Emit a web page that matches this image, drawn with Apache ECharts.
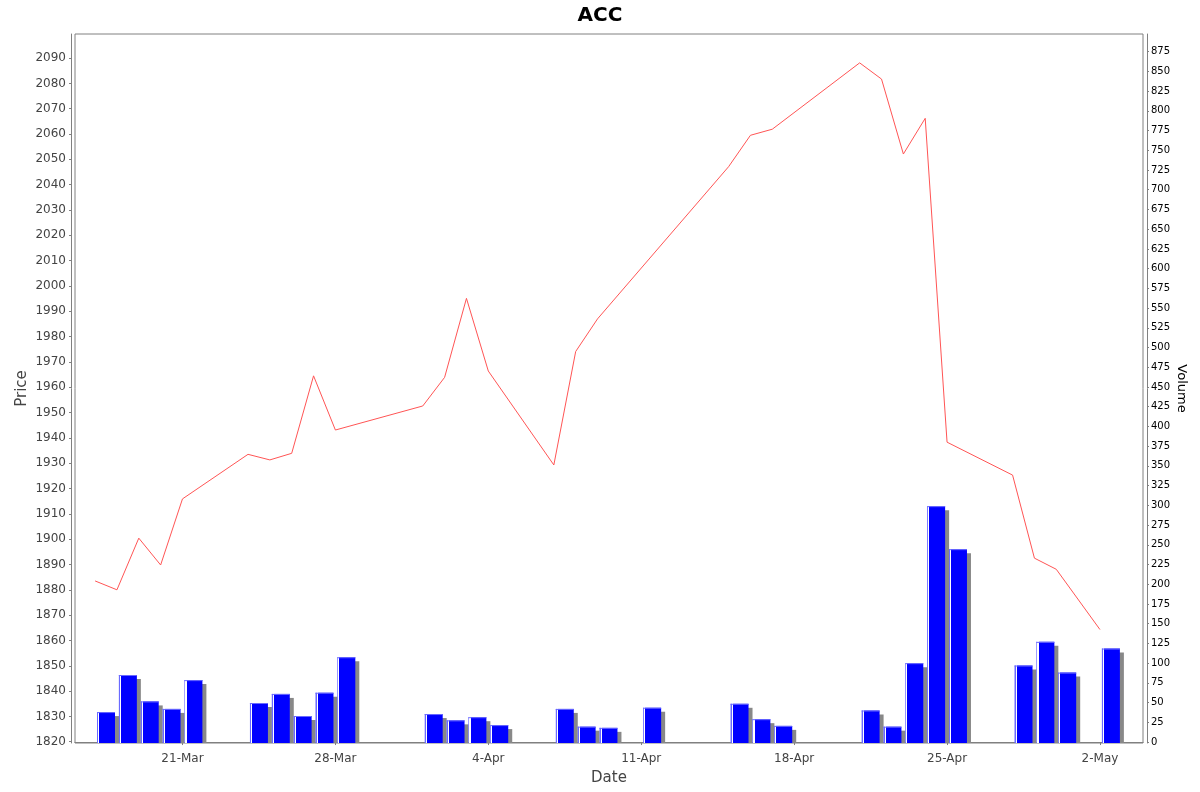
<!DOCTYPE html>
<html>
<head>
<meta charset="utf-8">
<script src="https://cdn.jsdelivr.net/npm/echarts@6/dist/echarts.min.js"></script>
<style>
  html, body { margin: 0; padding: 0; background: #fff; }
  #chart { width: 1200px; height: 792px; }
</style>
</head>
<body>
<div id="chart"></div>
<script>
// price closes (line, left axis)
const priceDates = ['2014-03-17', '2014-03-18', '2014-03-19', '2014-03-20', '2014-03-21',
    '2014-03-24', '2014-03-25', '2014-03-26', '2014-03-27', '2014-03-28',
    '2014-04-01', '2014-04-02', '2014-04-03', '2014-04-04',
    '2014-04-07', '2014-04-08', '2014-04-09',
    '2014-04-15', '2014-04-16', '2014-04-17',
    '2014-04-21', '2014-04-22', '2014-04-23', '2014-04-24', '2014-04-25',
    '2014-04-28', '2014-04-29', '2014-04-30', '2014-05-02'];
const priceValues = [1883.5, 1880, 1900.4, 1889.8, 1915.9,
    1933.5, 1931.3, 1933.9, 1964.5, 1943.1,
    1952.6, 1963.9, 1995.1, 1966.4,
    1929.3, 1974.1, 1987.0,
    2047.1, 2059.5, 2061.9,
    2088.1, 2081.7, 2052.1, 2066.2, 1938.3,
    1925.3, 1892.5, 1888.1, 1864.3];

// traded volume (bars, right axis)
const volumeDates = ['2014-03-17', '2014-03-18', '2014-03-19', '2014-03-20', '2014-03-21',
    '2014-03-24', '2014-03-25', '2014-03-26', '2014-03-27', '2014-03-28',
    '2014-04-01', '2014-04-02', '2014-04-03', '2014-04-04',
    '2014-04-07', '2014-04-08', '2014-04-09', '2014-04-11',
    '2014-04-15', '2014-04-16', '2014-04-17',
    '2014-04-21', '2014-04-22', '2014-04-23', '2014-04-24', '2014-04-25',
    '2014-04-28', '2014-04-29', '2014-04-30', '2014-05-02'];
const volumeValues = [38, 85, 51.5, 42, 78.5,
    49.5, 61, 33, 62.5, 107.5,
    35.5, 27.5, 31.5, 21.5,
    42, 19.5, 18, 43.5,
    48.5, 29, 20.5,
    40, 19.5, 100, 299, 244.5,
    97, 127, 88, 118.5];

// axis ticks
const dateTicks = ['2014-03-21', '2014-03-28', '2014-04-04', '2014-04-11', '2014-04-18', '2014-04-25', '2014-05-02'];
const priceTicks = [];
for (let p = 1820; p <= 2090; p += 10) priceTicks.push(p);
const volumeTicks = [];
for (let v = 0; v <= 875; v += 25) volumeTicks.push(v);

const DAY = 24 * 3600 * 1000;
const months = ['Jan', 'Feb', 'Mar', 'Apr', 'May', 'Jun', 'Jul', 'Aug', 'Sep', 'Oct', 'Nov', 'Dec'];
function toTime(s) {
    const [y, m, d] = s.split('-').map(Number);
    return Date.UTC(y, m - 1, d);
}
function fmtDate(t) {
    const d = new Date(t);
    return d.getUTCDate() + '-' + months[d.getUTCMonth()];
}

const xMin = toTime('2014-03-21') - 4.92 * DAY;
const xMax = toTime('2014-05-02') + 1.97 * DAY;
const BAR_W = 18;

const barFill = new echarts.graphic.LinearGradient(0, 0, 1, 0, [
    { offset: 0, color: '#6a6aff' }, { offset: 0.06, color: '#6a6aff' },
    { offset: 0.06, color: '#ffffff' }, { offset: 0.12, color: '#ffffff' },
    { offset: 0.12, color: '#0000ff' }, { offset: 1, color: '#0000ff' }
]);

// bar with a flat grey drop shadow, clipped at the plot bottom
function renderVolumeBar(params, api) {
    const top = api.coord([api.value(0), api.value(1)]);
    const base = params.coordSys.y + params.coordSys.height;
    const left = top[0] - BAR_W / 2;
    const h = base - top[1];
    return {
        type: 'group',
        children: [{
            type: 'rect',
            shape: { x: left + 4, y: top[1] + 4, width: BAR_W, height: Math.max(h - 4, 0) },
            style: { fill: '#888888' }
        }, {
            type: 'rect',
            shape: { x: left, y: top[1], width: BAR_W, height: h },
            style: { fill: barFill }
        }, {
            type: 'rect',
            shape: { x: left, y: top[1], width: BAR_W, height: 1 },
            style: { fill: '#6a6aff' }
        }]
    };
}

const chart = echarts.init(document.getElementById('chart'));
const labelFont = 'DejaVu Sans';

chart.setOption({
    backgroundColor: '#fff',
    animation: false,
    title: {
        text: 'ACC', left: 'center', top: 1,
        textStyle: { fontFamily: labelFont, fontWeight: 'bold', fontSize: 20, color: '#000' }
    },
    grid: {
        left: 75, right: 57, top: 34, bottom: 49,
        show: true, borderColor: '#808080', borderWidth: 1, backgroundColor: '#fff'
    },
    xAxis: {
        type: 'value', min: xMin, max: xMax, offset: 4,
        name: 'Date', nameLocation: 'middle', nameGap: 24, nameMoveOverlap: false,
        nameTextStyle: { fontFamily: labelFont, fontSize: 15, color: '#444' },
        axisLine: { show: true, lineStyle: { color: '#808080' } },
        axisTick: { show: true, length: 3, lineStyle: { color: '#808080' }, customValues: dateTicks.map(toTime) },
        axisLabel: {
            fontFamily: labelFont, fontSize: 12, color: '#444', margin: 6,
            customValues: dateTicks.map(toTime), formatter: fmtDate
        },
        splitLine: { show: false }
    },
    yAxis: [{
        type: 'value', position: 'left', min: 1819.5, max: 2099.5, offset: 4,
        name: 'Price', nameLocation: 'middle', nameGap: 41, nameMoveOverlap: false,
        nameTextStyle: { fontFamily: labelFont, fontSize: 15, color: '#444' },
        axisLine: { show: true, lineStyle: { color: '#808080' } },
        axisTick: { show: true, length: 2, lineStyle: { color: '#808080' }, customValues: priceTicks },
        axisLabel: {
            fontFamily: labelFont, fontSize: 12, color: '#444', margin: 5,
            customValues: priceTicks, formatter: v => String(v)
        },
        splitLine: { show: false }
    }, {
        type: 'value', position: 'right', min: -1.2, max: 897.4, offset: 4,
        name: 'Volume', nameLocation: 'middle', nameGap: 28, nameRotate: -90, nameMoveOverlap: false,
        nameTextStyle: { fontFamily: labelFont, fontSize: 13, color: '#000' },
        axisLine: { show: true, lineStyle: { color: '#808080' } },
        axisTick: { show: true, length: 2, lineStyle: { color: '#808080' }, customValues: volumeTicks },
        axisLabel: {
            fontFamily: labelFont, fontSize: 10, color: '#000', margin: 4,
            customValues: volumeTicks, formatter: v => String(v)
        },
        splitLine: { show: false }
    }],
    series: [{
        type: 'custom',
        yAxisIndex: 1,
        clip: true,
        renderItem: renderVolumeBar,
        encode: { x: 0, y: 1 },
        data: volumeDates.map((d, i) => [toTime(d) + DAY / 2, volumeValues[i]])
    }, {
        type: 'line',
        yAxisIndex: 0,
        data: priceDates.map((d, i) => [toTime(d), priceValues[i]]),
        symbol: 'none',
        lineStyle: { color: '#ff5555', width: 1 }
    }]
});
</script>
</body>
</html>
